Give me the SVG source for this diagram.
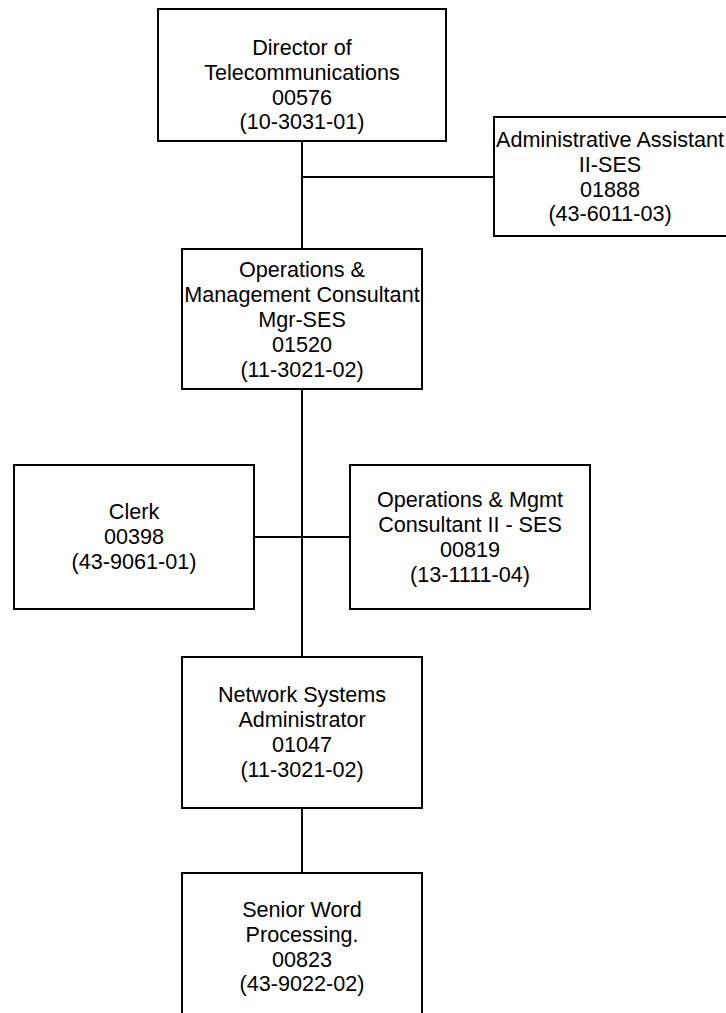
<svg xmlns="http://www.w3.org/2000/svg" width="726" height="1013" viewBox="0 0 726 1013">
  <style>
    .box { fill: #ffffff; stroke: #000000; stroke-width: 2; }
    .wire { fill: none; stroke: #000000; stroke-width: 2; }
    text { font-family: "Liberation Sans", Arial, sans-serif; font-size: 21.6px; fill: #000000; text-anchor: middle; }
  </style>
  <rect width="726" height="1013" fill="#ffffff"/>

  <!-- reporting lines -->
  <g id="connectors">
    <line class="wire" x1="302" y1="141" x2="302" y2="249"/>
    <line class="wire" x1="302" y1="177" x2="494" y2="177"/>
    <line class="wire" x1="302" y1="389" x2="302" y2="657"/>
    <line class="wire" x1="254" y1="537" x2="350" y2="537"/>
    <line class="wire" x1="302" y1="808" x2="302" y2="873"/>
  </g>

  <g id="director">
    <rect class="box" x="158" y="9" width="288" height="132"/>
    <text x="302" y="55">Director of</text>
    <text x="302" y="80">Telecommunications</text>
    <text x="302" y="105">00576</text>
    <text x="302" y="129">(10-3031-01)</text>
  </g>

  <g id="admin-assistant">
    <rect class="box" x="494" y="117" width="240" height="119"/>
    <text x="610" y="147">Administrative Assistant</text>
    <text x="610" y="172">II-SES</text>
    <text x="610" y="197">01888</text>
    <text x="610" y="221">(43-6011-03)</text>
  </g>

  <g id="ops-manager">
    <rect class="box" x="182" y="249" width="240" height="140"/>
    <text x="302" y="277">Operations &amp;</text>
    <text x="302" y="302">Management Consultant</text>
    <text x="302" y="327">Mgr-SES</text>
    <text x="302" y="352">01520</text>
    <text x="302" y="377">(11-3021-02)</text>
  </g>

  <g id="clerk">
    <rect class="box" x="14" y="465" width="240" height="144"/>
    <text x="134" y="519">Clerk</text>
    <text x="134" y="544">00398</text>
    <text x="134" y="569">(43-9061-01)</text>
  </g>

  <g id="ops-consultant">
    <rect class="box" x="350" y="465" width="240" height="144"/>
    <text x="470" y="507">Operations &amp; Mgmt</text>
    <text x="470" y="532">Consultant II - SES</text>
    <text x="470" y="557">00819</text>
    <text x="470" y="582">(13-1111-04)</text>
  </g>

  <g id="network-admin">
    <rect class="box" x="182" y="657" width="240" height="151"/>
    <text x="302" y="702">Network Systems</text>
    <text x="302" y="727">Administrator</text>
    <text x="302" y="752">01047</text>
    <text x="302" y="777">(11-3021-02)</text>
  </g>

  <g id="word-processing">
    <rect class="box" x="182" y="873" width="240" height="150"/>
    <text x="302" y="917">Senior Word</text>
    <text x="302" y="942">Processing.</text>
    <text x="302" y="967">00823</text>
    <text x="302" y="991">(43-9022-02)</text>
  </g>
</svg>
